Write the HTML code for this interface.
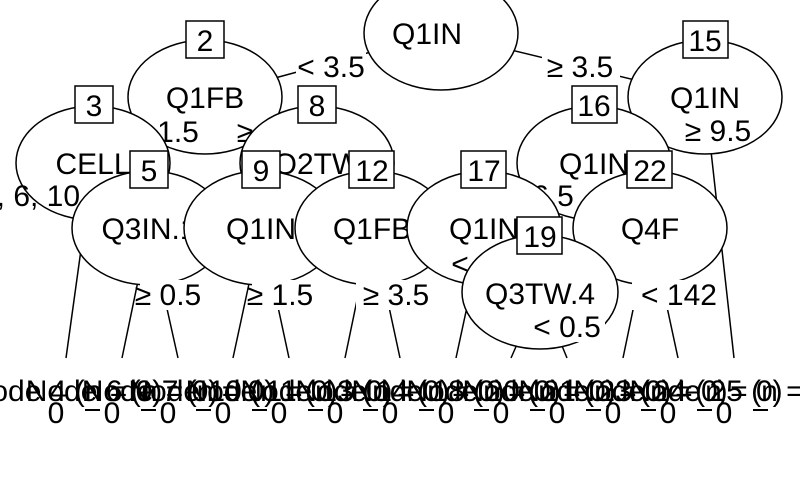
<!DOCTYPE html>
<html><head><meta charset="utf-8"><style>
html,body{margin:0;padding:0;background:#fff;}
svg{display:block;}
text{font-family:"Liberation Sans",sans-serif;fill:#000;}
</style></head><body>
<svg width="800" height="494" viewBox="0 0 800 494" xmlns="http://www.w3.org/2000/svg">
<g stroke="#000" stroke-width="1.5" fill="none">
<line x1="441" y1="33" x2="205" y2="97"/>
<line x1="441" y1="33" x2="705" y2="97"/>
<line x1="205" y1="97" x2="93" y2="163"/>
<line x1="205" y1="97" x2="317" y2="163"/>
<line x1="93" y1="163" x2="66" y2="358"/>
<line x1="93" y1="163" x2="149" y2="228"/>
<line x1="149" y1="228" x2="122" y2="358"/>
<line x1="149" y1="228" x2="178" y2="358"/>
<line x1="317" y1="163" x2="261" y2="228"/>
<line x1="317" y1="163" x2="372" y2="228"/>
<line x1="261" y1="228" x2="233" y2="358"/>
<line x1="261" y1="228" x2="289" y2="358"/>
<line x1="372" y1="228" x2="345" y2="358"/>
<line x1="372" y1="228" x2="400" y2="358"/>
<line x1="705" y1="97" x2="594" y2="163"/>
<line x1="705" y1="97" x2="734" y2="358"/>
<line x1="594" y1="163" x2="484" y2="228"/>
<line x1="594" y1="163" x2="650" y2="228"/>
<line x1="484" y1="228" x2="456" y2="358"/>
<line x1="484" y1="228" x2="540" y2="292"/>
<line x1="540" y1="292" x2="511" y2="358"/>
<line x1="540" y1="292" x2="567" y2="358"/>
<line x1="650" y1="228" x2="623" y2="358"/>
<line x1="650" y1="228" x2="678" y2="358"/>
</g>
<g stroke="#000" stroke-width="1.5" fill="#fff" font-size="30">
<ellipse cx="441" cy="33" rx="77" ry="57"/>
<text x="427" y="44" text-anchor="middle" stroke="none">Q1IN</text>
<rect x="296" y="52" width="70" height="30" stroke="none"/>
<text x="331" y="77" text-anchor="middle" stroke="none">&lt; 3.5</text>
<rect x="542" y="52" width="78" height="30" stroke="none"/>
<text x="580" y="77" text-anchor="middle" stroke="none">≥ 3.5</text>

<ellipse cx="205" cy="97" rx="77" ry="57"/>
<text x="205" y="108" text-anchor="middle" stroke="none">Q1FB</text>
<rect x="186" y="21" width="38" height="37"/><text x="205" y="51" text-anchor="middle" stroke="none">2</text>
<text x="178" y="142" text-anchor="middle" stroke="none">1.5</text>
<text x="245" y="142" text-anchor="middle" stroke="none">≥</text>

<ellipse cx="705" cy="97" rx="77" ry="57"/>
<text x="705" y="108" text-anchor="middle" stroke="none">Q1IN</text>
<rect x="683" y="21" width="45" height="37"/><text x="705" y="51" text-anchor="middle" stroke="none">15</text>
<text x="718" y="141" text-anchor="middle" stroke="none">≥ 9.5</text>

<ellipse cx="93" cy="163" rx="77" ry="57"/>
<text x="93" y="174" text-anchor="middle" stroke="none">CELL</text>
<rect x="75" y="86" width="38" height="37"/><text x="94" y="116" text-anchor="middle" stroke="none">3</text>
<text x="30" y="206" text-anchor="middle" stroke="none">3, 6, 10</text>

<ellipse cx="317" cy="163" rx="77" ry="57"/>
<text x="317" y="174" text-anchor="middle" stroke="none">Q2TW</text>
<rect x="298" y="86" width="38" height="37"/><text x="317" y="116" text-anchor="middle" stroke="none">8</text>

<ellipse cx="594" cy="163" rx="77" ry="57"/>
<text x="594" y="174" text-anchor="middle" stroke="none">Q1IN</text>
<rect x="572" y="86" width="45" height="37"/><text x="594" y="116" text-anchor="middle" stroke="none">16</text>
<text x="553" y="206" text-anchor="middle" stroke="none">6.5</text>

<ellipse cx="149" cy="228" rx="77" ry="57"/>
<text x="149" y="239" text-anchor="middle" stroke="none">Q3IN.1</text>
<rect x="130" y="151" width="38" height="37"/><text x="149" y="181" text-anchor="middle" stroke="none">5</text>

<ellipse cx="261" cy="228" rx="77" ry="57"/>
<text x="261" y="239" text-anchor="middle" stroke="none">Q1IN</text>
<rect x="242" y="151" width="38" height="37"/><text x="261" y="181" text-anchor="middle" stroke="none">9</text>

<ellipse cx="372" cy="228" rx="77" ry="57"/>
<text x="372" y="239" text-anchor="middle" stroke="none">Q1FB</text>
<rect x="349" y="151" width="45" height="37"/><text x="372" y="181" text-anchor="middle" stroke="none">12</text>

<ellipse cx="484" cy="228" rx="77" ry="57"/>
<text x="484" y="239" text-anchor="middle" stroke="none">Q1IN</text>
<rect x="461" y="151" width="45" height="37"/><text x="484" y="181" text-anchor="middle" stroke="none">17</text>
<text x="460" y="274" text-anchor="middle" stroke="none">&lt;</text>

<ellipse cx="650" cy="228" rx="77" ry="57"/>
<text x="650" y="239" text-anchor="middle" stroke="none">Q4F</text>
<rect x="627" y="151" width="45" height="37"/><text x="650" y="181" text-anchor="middle" stroke="none">22</text>

<ellipse cx="540" cy="292" rx="78" ry="57"/>
<text x="540" y="304" text-anchor="middle" stroke="none">Q3TW.4</text>
<rect x="517" y="217" width="45" height="37"/><text x="540" y="247" text-anchor="middle" stroke="none">19</text>

<g stroke="none">
<rect x="140" y="280" width="58" height="30"/><text x="168" y="305" text-anchor="middle">≥ 0.5</text>
<rect x="252" y="280" width="58" height="30"/><text x="280" y="305" text-anchor="middle">≥ 1.5</text>
<rect x="356" y="280" width="78" height="30"/><text x="396" y="305" text-anchor="middle">≥ 3.5</text>
<rect x="632" y="280" width="90" height="30"/><text x="679" y="305" text-anchor="middle">&lt; 142</text>
<rect x="525" y="312" width="80" height="30"/><text x="567" y="337" text-anchor="middle">&lt; 0.5</text>
</g>
</g>
<g font-size="30" text-anchor="middle">
<text x="66" y="401">Node 4 (n = 0)</text>
<text x="122" y="401">Node 6 (n = 0)</text>
<text x="178" y="401">Node 7 (n = 0)</text>
<text x="233" y="401">Node 10 (n = 0)</text>
<text x="289" y="401">Node 11 (n = 0)</text>
<text x="345" y="401">Node 13 (n = 0)</text>
<text x="400" y="401">Node 14 (n = 0)</text>
<text x="456" y="401">Node 18 (n = 0)</text>
<text x="511" y="401">Node 20 (n = 0)</text>
<text x="567" y="401">Node 21 (n = 0)</text>
<text x="623" y="401">Node 23 (n = 0)</text>
<text x="678" y="401">Node 24 (n = 0)</text>
<text x="734" y="401">Node 25 (n = 0)</text>
<text x="56" y="423">0</text><text x="112" y="423">0</text><text x="168" y="423">0</text>
<text x="223" y="423">0</text><text x="279" y="423">0</text><text x="335" y="423">0</text>
<text x="390" y="423">0</text><text x="446" y="423">0</text><text x="501" y="423">0</text>
<text x="557" y="423">0</text><text x="613" y="423">0</text><text x="668" y="423">0</text>
<text x="724" y="423">0</text>
</g>
<g stroke="#000" stroke-width="2">
<line x1="85" y1="410" x2="100" y2="410"/><line x1="141" y1="410" x2="156" y2="410"/>
<line x1="196" y1="410" x2="211" y2="410"/><line x1="252" y1="410" x2="267" y2="410"/>
<line x1="308" y1="410" x2="323" y2="410"/><line x1="363" y1="410" x2="378" y2="410"/>
<line x1="419" y1="410" x2="434" y2="410"/><line x1="474" y1="410" x2="489" y2="410"/>
<line x1="530" y1="410" x2="545" y2="410"/><line x1="586" y1="410" x2="601" y2="410"/>
<line x1="641" y1="410" x2="656" y2="410"/><line x1="697" y1="410" x2="712" y2="410"/>
<line x1="753" y1="410" x2="768" y2="410"/>
</g>
</svg>
</body></html>
